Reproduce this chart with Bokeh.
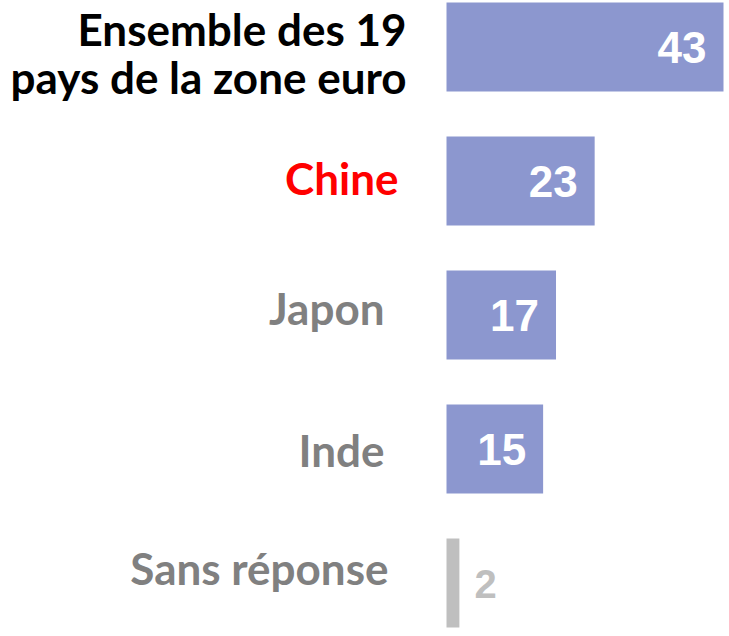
from bokeh.plotting import figure
from bokeh.models import ColumnDataSource, Range1d
from bokeh.core.properties import value
from bokeh.embed import file_html
from bokeh.resources import INLINE

# ---- data ----
categories = ["Ensemble des 19\npays de la zone euro", "Chine", "Japon", "Inde", "Sans réponse"]
values = [43, 23, 17, 15, 2]
bar_colors = ["#8C97CF", "#8C97CF", "#8C97CF", "#8C97CF", "#BFBFBF"]
label_colors = ["#000000", "#FF0000", "#808080", "#808080", "#808080"]
value_colors = ["#FFFFFF", "#FFFFFF", "#FFFFFF", "#FFFFFF", "#BFBFBF"]

# ---- layout (screen px) ----
baseline_fix = -16
label_dx = [-40, -48, -62, -62, -58]        # right edge of label, relative to bar start
label_dy = [-2.5, 12.5, 8.5, 16.5, 0.5]     # baseline of first line, relative to bar centre
line_gap = 48
inside = [True, True, True, True, False]

W, H = 725, 630
zero_px = 446
scale = 277 / 43
x_start = -zero_px / scale
x_end = (W - zero_px) / scale

n = len(categories)
ys = [n - 1 - i for i in range(n)]
unit = 134.0
y_top = (n - 1) + 46.5 / unit
y_bot = -(H - 582.5) / unit

p = figure(width=W, height=H, output_backend="svg", toolbar_location=None,
           x_range=Range1d(x_start, x_end), y_range=Range1d(y_bot, y_top),
           min_border=0)
p.axis.visible = False
p.grid.visible = False
p.outline_line_color = None
p.background_fill_color = "white"
p.border_fill_color = "white"

bars = ColumnDataSource(dict(y=ys, v=values, c=bar_colors))
p.hbar(y="y", left=0, right="v", height=89 / unit, fill_color="c", line_color=None, source=bars)

# category labels (possibly multi-line)
lx, ly, lt, lc, ldx, ldy = [], [], [], [], [], []
for i, cat in enumerate(categories):
    for j, line in enumerate(cat.split("\n")):
        lx.append(0)
        ly.append(ys[i])
        lt.append(line)
        lc.append(label_colors[i])
        ldx.append(label_dx[i])
        ldy.append(label_dy[i] + j * line_gap + baseline_fix)
labels = ColumnDataSource(dict(x=lx, y=ly, t=lt, c=lc, dx=ldx, dy=ldy))
p.text(x="x", y="y", text="t", text_color="c", x_offset="dx", y_offset="dy",
       text_align="right", text_baseline="alphabetic",
       text_font=value("Lato"), text_font_style="bold", text_font_size="44px",
       source=labels)

# value labels
vin = [i for i in range(n) if inside[i]]
vout = [i for i in range(n) if not inside[i]]
src_in = ColumnDataSource(dict(x=[values[i] for i in vin], y=[ys[i] for i in vin],
                               t=[str(values[i]) for i in vin], c=[value_colors[i] for i in vin]))
src_out = ColumnDataSource(dict(x=[values[i] for i in vout], y=[ys[i] for i in vout],
                                t=[str(values[i]) for i in vout], c=[value_colors[i] for i in vout]))
p.text(x="x", y="y", text="t", text_color="c", x_offset=-17, y_offset=16.5 + baseline_fix,
       text_align="right", text_baseline="alphabetic",
       text_font=value("Liberation Sans"), text_font_style="bold", text_font_size="44px",
       source=src_in)
p.text(x="x", y="y", text="t", text_color="c", x_offset=15, y_offset=16.5 + baseline_fix,
       text_align="left", text_baseline="alphabetic",
       text_font=value("Liberation Sans"), text_font_style="bold", text_font_size="40px",
       source=src_out)

open("out.html", "w").write(file_html(p, INLINE))
